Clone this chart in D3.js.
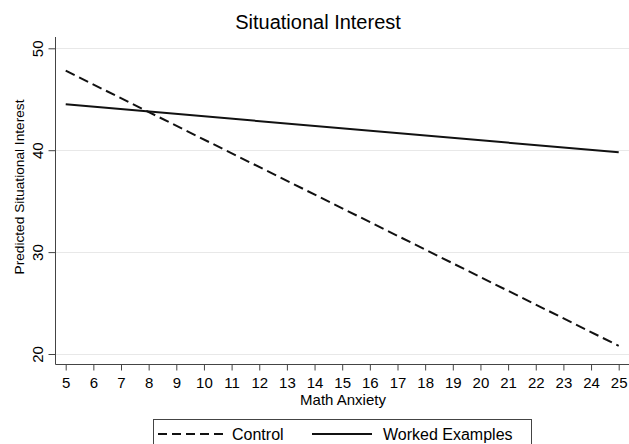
<!DOCTYPE html>
<html>
<head>
<meta charset="utf-8">
<script src="https://cdn.jsdelivr.net/npm/d3@7"></script>
<style>
  html, body { margin: 0; padding: 0; background: #fff; }
  svg { display: block; font-family: "Liberation Sans", Arial, Helvetica, sans-serif; }
</style>
</head>
<body>
<svg id="chart" width="629" height="444"></svg>
<script>
// Predicted situational interest by math anxiety, one line per condition
const anxiety = [5, 25];
const controlValues = [47.8, 20.8];
const workedValues = [44.5, 39.8];
const seriesNames = ["Control", "Worked Examples"];
const xTicks = d3.range(5, 26);
const yTicks = [20, 30, 40, 50];

const svg = d3.select("#chart");
const W = 629, H = 444;

const x = d3.scaleLinear().domain([5, 25]).range([65.7, 618.7]);
const y = d3.scaleLinear().domain([20, 50]).range([354, 48.3]);

const axisX = 55.5, axisY = 364.5;

// grid
svg.append("g").selectAll("line").data(yTicks).join("line")
  .attr("x1", axisX).attr("x2", W)
  .attr("y1", d => Math.round(y(d)) + 0.5).attr("y2", d => Math.round(y(d)) + 0.5)
  .attr("stroke", "#e8e8e8").attr("stroke-width", 1);

// y axis
const gy = svg.append("g").attr("transform", `translate(${axisX},0)`)
  .call(d3.axisLeft(y).tickValues(yTicks).tickSize(7).tickPadding(5).tickFormat(d3.format("d")));
gy.select(".domain").remove();
gy.append("line").attr("x1", 0).attr("x2", 0).attr("y1", 37).attr("y2", axisY).attr("stroke", "#444");
gy.selectAll(".tick line").attr("stroke", "#444");
gy.selectAll(".tick text")
  .attr("font-size", 15).attr("fill", "#000").attr("font-family", null)
  .attr("x", null).attr("dy", null)
  .attr("text-anchor", "middle")
  .attr("transform", "translate(-13,0) rotate(-90)");

// x axis
const gx = svg.append("g").attr("transform", `translate(0,${axisY})`)
  .call(d3.axisBottom(x).tickValues(xTicks).tickSize(6).tickPadding(7).tickFormat(d3.format("d")));
gx.select(".domain").remove();
gx.append("line").attr("x1", axisX).attr("x2", W).attr("y1", 0).attr("y2", 0).attr("stroke", "#444");
gx.selectAll(".tick line").attr("stroke", "#444");
gx.selectAll(".tick text").attr("font-size", 15).attr("fill", "#000").attr("font-family", null);

// lines
const line = d3.line().x(d => x(d[0])).y(d => y(d[1]));
svg.append("path")
  .datum(anxiety.map((a, i) => [a, controlValues[i]]))
  .attr("d", line).attr("fill", "none").attr("stroke", "#111")
  .attr("stroke-width", 2).attr("stroke-dasharray", "10,5");
svg.append("path")
  .datum(anxiety.map((a, i) => [a, workedValues[i]]))
  .attr("d", line).attr("fill", "none").attr("stroke", "#111")
  .attr("stroke-width", 2);

// titles
svg.append("text").attr("x", 318).attr("y", 29).attr("text-anchor", "middle")
  .attr("font-size", 20).attr("fill", "#000").text("Situational Interest");
svg.append("text").attr("x", 343).attr("y", 405).attr("text-anchor", "middle")
  .attr("font-size", 15).attr("fill", "#000").text("Math Anxiety");
svg.append("text").attr("transform", "translate(24,187) rotate(-90)").attr("text-anchor", "middle")
  .attr("font-size", 13.7).attr("fill", "#000").text("Predicted Situational Interest");

// legend
const lg = svg.append("g");
lg.append("rect").attr("x", 153.5).attr("y", 419.5).attr("width", 378).attr("height", 30)
  .attr("fill", "none").attr("stroke", "#444");
lg.append("line").attr("x1", 158).attr("x2", 223).attr("y1", 434).attr("y2", 434)
  .attr("stroke", "#111").attr("stroke-width", 2).attr("stroke-dasharray", "9,5");
lg.append("text").attr("x", 232).attr("y", 439.5).attr("font-size", 16).attr("fill", "#000").text(seriesNames[0]);
lg.append("line").attr("x1", 312).attr("x2", 372).attr("y1", 434).attr("y2", 434)
  .attr("stroke", "#111").attr("stroke-width", 2);
lg.append("text").attr("x", 383).attr("y", 439.5).attr("font-size", 16).attr("fill", "#000").text(seriesNames[1]);
</script>
</body>
</html>
